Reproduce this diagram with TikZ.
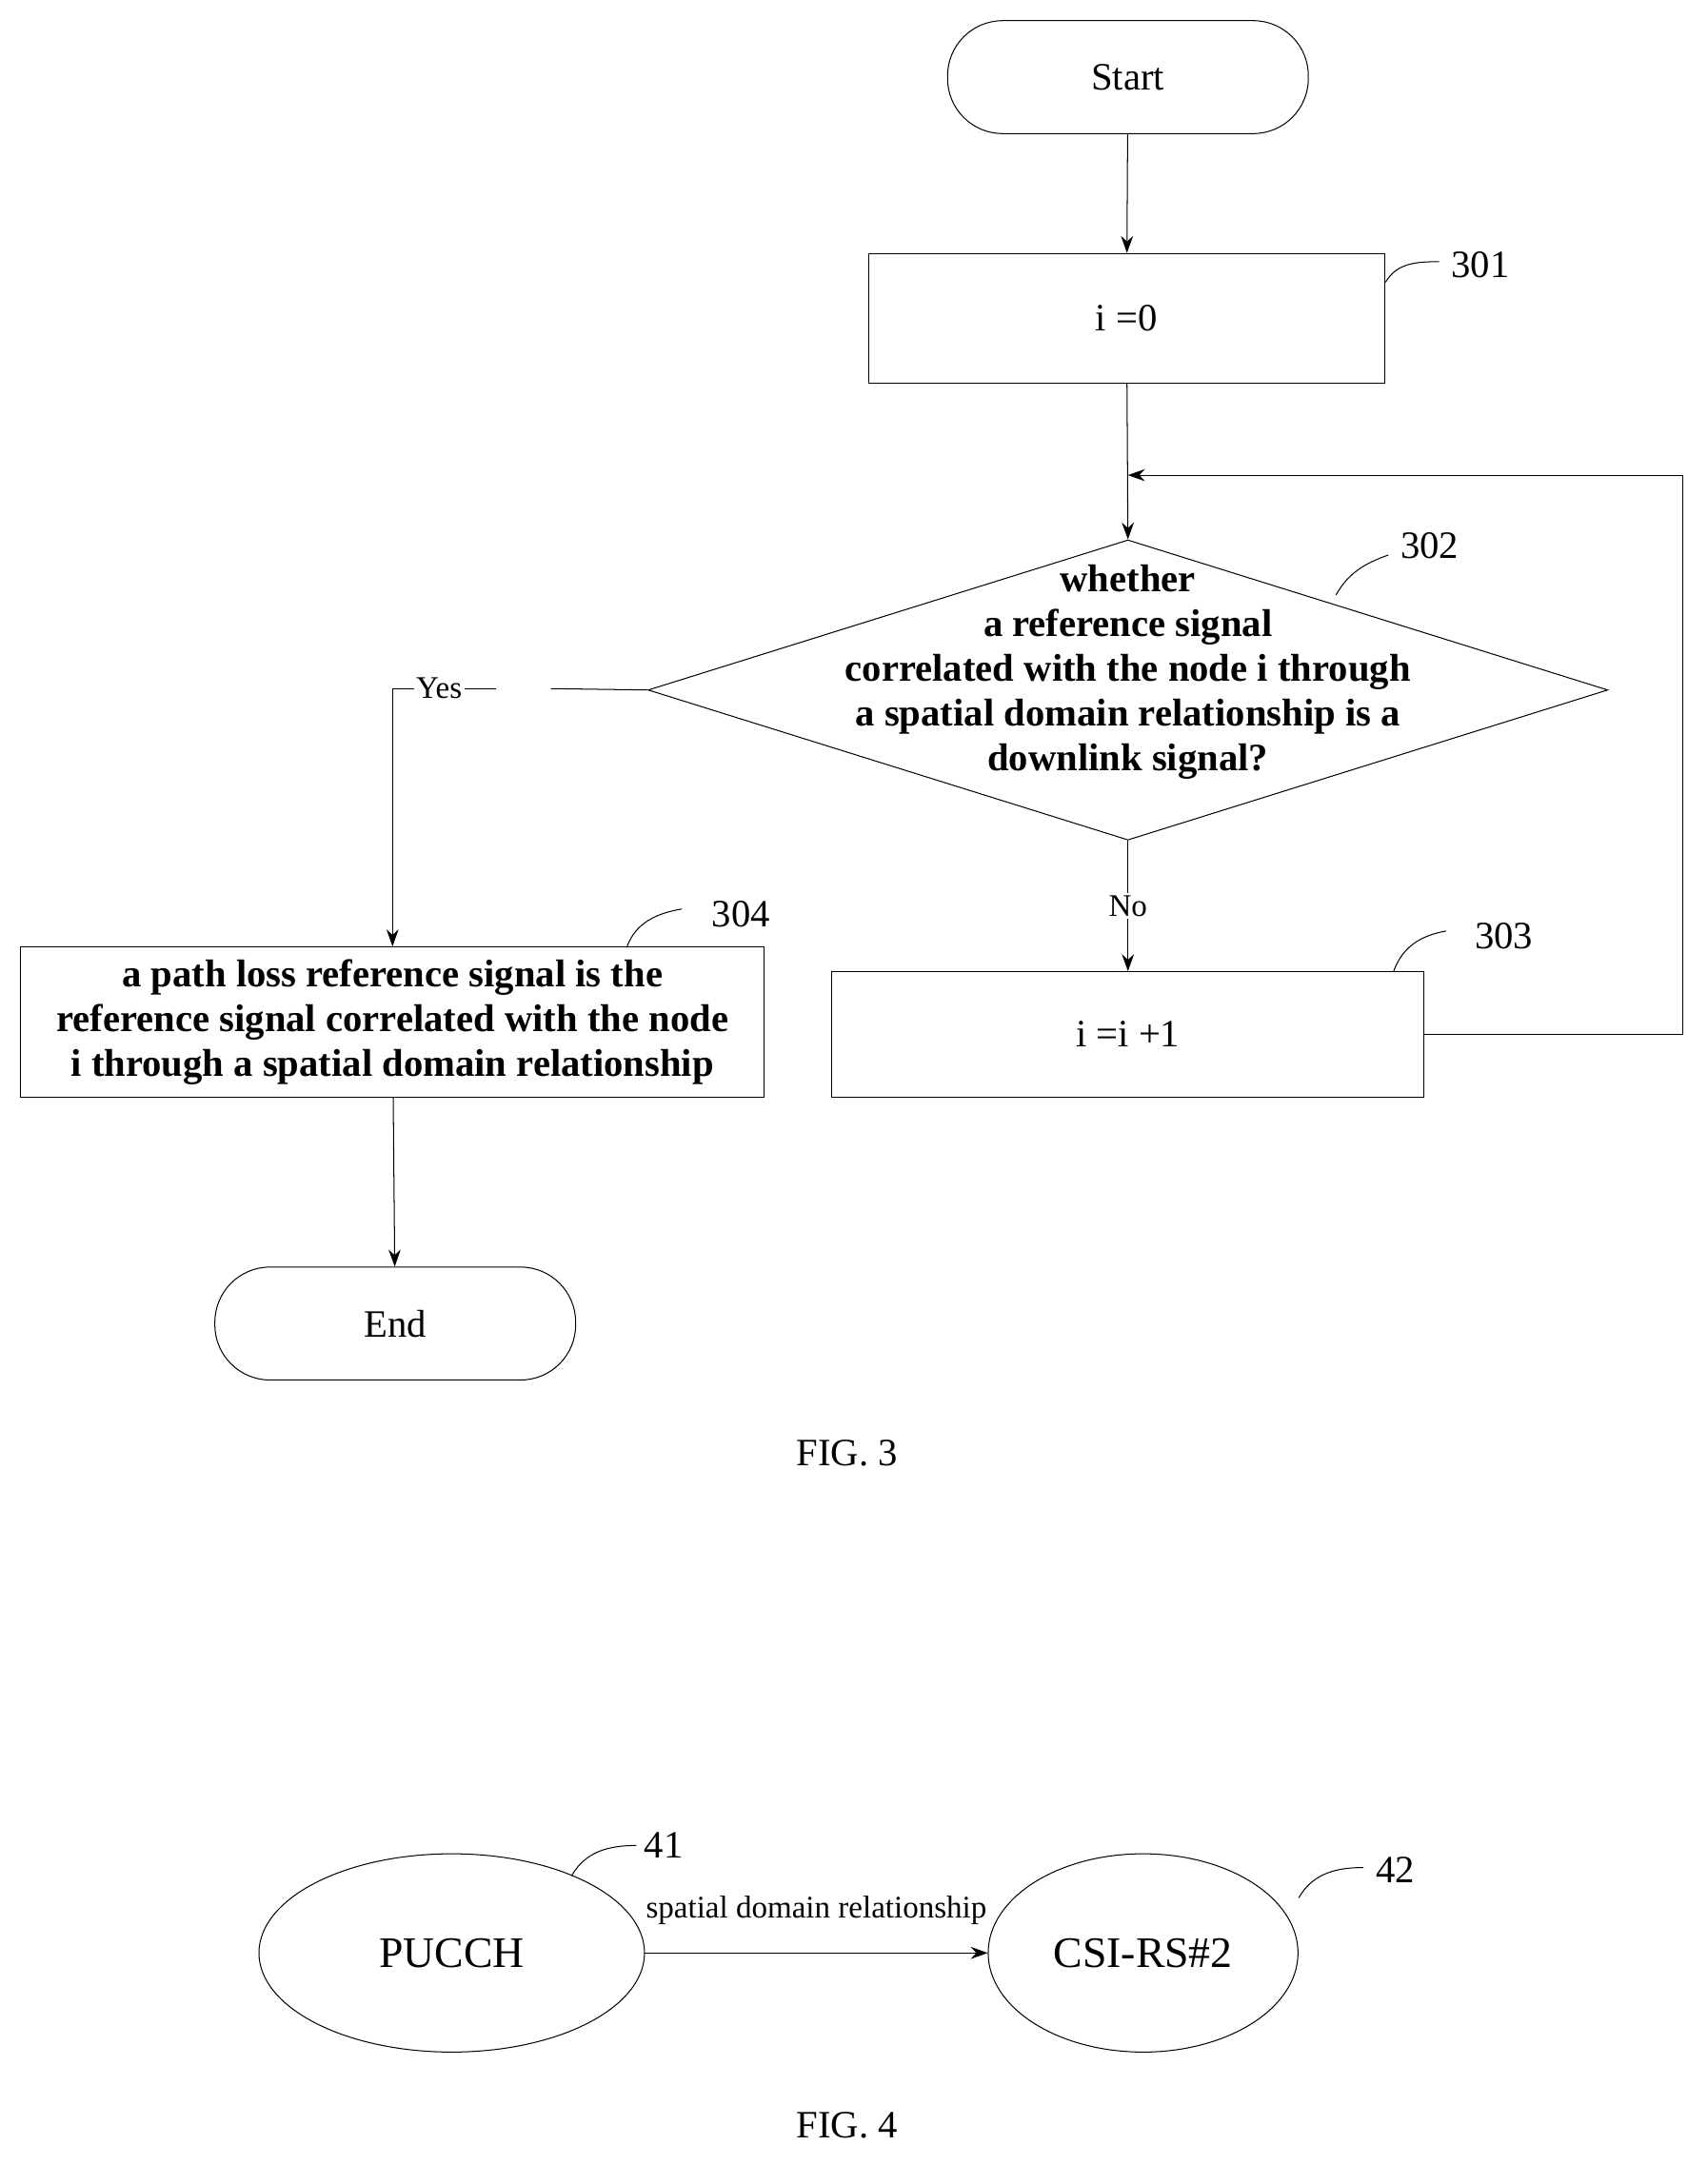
\documentclass[tikz,border=0pt]{standalone}
\usepackage{fontspec}
\setmainfont{Liberation Serif}
\usetikzlibrary{shapes.geometric,arrows.meta,positioning}
\begin{document}
\begin{tikzpicture}[x=0.02cm,y=-0.02cm,>={Stealth[length=7pt,width=5pt]},
  term/.style={draw,rounded corners=0.8cm,minimum width=5.24cm,minimum height=1.64cm,font=\fontsize{16}{19}\selectfont},
  proc/.style={draw,align=center,font=\fontsize{16}{19}\selectfont},
  oval/.style={draw,ellipse,minimum height=2.88cm,font=\fontsize{18}{21}\selectfont},
  tag/.style={font=\fontsize{16}{19}\selectfont}]
\useasboundingbox (0,0) rectangle (1240,1572);
% Nodes
\node[term] (start) at (819,56) {Start};
\node[proc,minimum width=7.5cm,minimum height=1.88cm] (s301) at (818,231) {i =0};
\node[draw,diamond,aspect=3.2,inner sep=0pt,minimum width=13.94cm,minimum height=4.36cm] (s302) at (819,501) {};
\node[align=center,font=\fontsize{16}{18.5}\selectfont\bfseries] at (819,488) {whether\\a reference signal\\correlated with the node i through\\a spatial domain relationship is a\\downlink signal?};
\node[proc,minimum width=8.6cm,minimum height=1.82cm] (s303) at (819,751) {i =i +1};
\node[proc,minimum width=10.8cm,minimum height=2.18cm,inner sep=1pt,font=\fontsize{16}{18.5}\selectfont\bfseries] (s304) at (285,742) {a path loss reference signal is the\\reference signal correlated with the node\\i through a spatial domain relationship};
\node[term] (end) at (287,961) {End};
\coordinate (merge) at (819,345);
\coordinate (yes) at (285,500);
% labels
\node[tag] (l301) at (1075,192) {301};
\draw (1006,205) to[out=60,in=180] (1045,190);
\node[tag] (l302) at (1038,396) {302};
\draw (970,432) to[out=60,in=200] (1008,403);
\node[tag] (l303) at (1092,680) {303};
\draw (1012,705) to[out=70,in=190] (1050,676);
\node[tag] (l304) at (538,664) {304};
\draw (455,688) to[out=70,in=190] (495,660);
% edges
\draw[->] (start) -- (s301);
\draw[->] (s301) -- (s302.north);
\draw (s302.west) -- (400,500);
\draw (360,500) -- (yes) node[pos=0.55,fill=white,inner sep=1pt,font=\fontsize{13}{15}\selectfont] {Yes};
\draw[->] (yes) -- (s304);
\draw[->] (s302.south) -- node[fill=white,inner sep=1pt,font=\fontsize{13}{15}\selectfont] {No} (s303);
\draw[->] (s303.east) -- (1222,751) -- (1222,345) -- (merge);
\draw[->] (s304) -- (end);
\node[tag] at (615,1055) {FIG. 3};
% FIG. 4
\node[oval,minimum width=5.6cm] (pucch) at (328,1418) {PUCCH};
\node[oval,minimum width=4.5cm] (csi) at (830,1418) {CSI-RS\#2};
\draw[->] (pucch) -- node[above=8pt,font=\fontsize{13}{15}\selectfont] {spatial domain relationship} (csi);
\node[tag] at (482,1340) {41};
\draw (415,1362) to[out=60,in=180] (462,1340);
\node[tag] at (1013,1358) {42};
\draw (943,1378) to[out=60,in=180] (990,1356);
\node[tag] at (615,1543) {FIG. 4};
\end{tikzpicture}
\end{document}
